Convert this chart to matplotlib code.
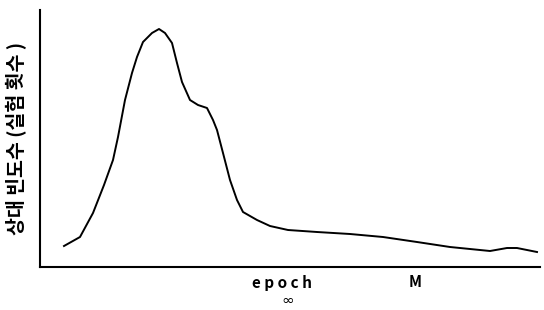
import matplotlib
matplotlib.use("Agg")
import matplotlib.pyplot as plt

plt.rcParams['font.family'] = ['Noto Sans CJK KR', 'DejaVu Sans']

# curve (x: epoch, y: relative frequency)
epochs = [4.8, 8, 10.6, 12.8, 14.6, 15.6, 17, 18.4, 19.4, 20.6, 22.4, 23.8,
          25, 26.4, 27.4, 28.4, 30, 31.6, 33.4, 34.6, 35.4, 36.6, 38, 39.4,
          40.6, 43.4, 46, 49.6, 55.4, 62, 68.6, 75.4, 82, 90, 93.4, 95.4, 99.4]
freq = [21, 30, 54, 82, 107, 130, 167, 194, 210, 225, 234, 238,
        234, 224, 204, 185, 167, 162, 159, 147, 137, 114, 87, 67,
        55, 47, 41, 37, 35, 33, 30, 25, 20, 16, 19, 19, 15]

fig = plt.figure(figsize=(5.44, 3.10), dpi=100)
ax = fig.add_axes([40 / 544, 43 / 310, 500 / 544, 257 / 310])
ax.plot(epochs, freq, color='black', linewidth=1.4)
ax.set_xlim(0, 100)
ax.set_ylim(0, 257)
ax.set_xticks([])
ax.set_yticks([])
for s in ['top', 'right']:
    ax.spines[s].set_visible(False)
for s in ['left', 'bottom']:
    ax.spines[s].set_linewidth(1.5)

fig.text(282 / 544, 1 - 283 / 310, 'e p o c h', ha='center', va='center',
         fontsize=11, fontweight='bold')
fig.text(415 / 544, 1 - 282 / 310, 'M', ha='center', va='center',
         fontsize=11, fontweight='bold')
fig.text(288 / 544, 1 - 300 / 310, '∞', ha='center', va='center',
         fontsize=11, family='DejaVu Sans')
fig.text(17 / 544, 1 - 138 / 310, '상대 빈도수 (실험 횟수 )', ha='center', va='center',
         rotation=90, fontsize=14, fontweight='bold')

fig.savefig('out.png', dpi=100)
